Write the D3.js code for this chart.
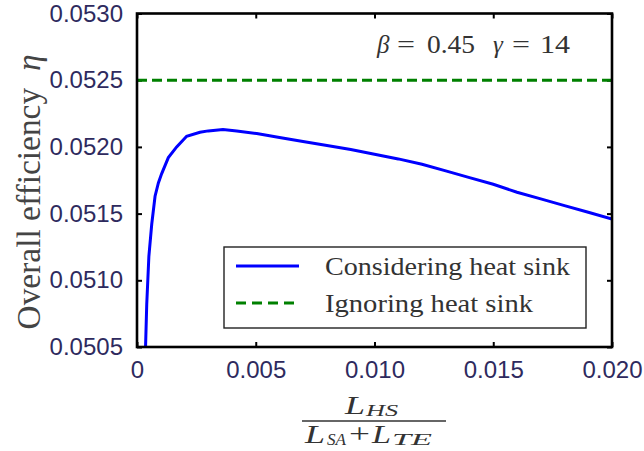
<!DOCTYPE html>
<html lang="en">
<head>
<meta charset="utf-8">
<script src="https://cdn.jsdelivr.net/npm/d3@7/dist/d3.min.js"></script>
<style>
  body { margin: 0; background: #fff; }
  svg { display: block; }
  .tick text { font-family: "Liberation Sans", Arial, sans-serif; font-size: 24px; fill: #2e2a5e; }
  .serif { font-family: "Liberation Serif", "Times New Roman", serif; fill: #333; }
</style>
</head>
<body>
<svg width="644" height="451" id="plot"></svg>
<script>
// ratio L_HS / (L_SA + L_TE)
const ratio = [0.00036, 0.00041, 0.00050, 0.00062, 0.00076, 0.00090, 0.00104, 0.00132,
  0.00167, 0.00209, 0.00265, 0.0030, 0.00362, 0.0042, 0.00504, 0.0060, 0.00699,
  0.008, 0.009, 0.010, 0.011, 0.012, 0.013, 0.014, 0.015, 0.016, 0.017, 0.018, 0.019, 0.020]
// overall efficiency, considering heat sink
const etaHeatSink = [0.0505, 0.05082, 0.05118, 0.05142, 0.05163, 0.05173, 0.05180, 0.05192,
  0.05200, 0.05208, 0.05211, 0.05212, 0.05213, 0.05212, 0.05210, 0.05207, 0.05204,
  0.05201, 0.05198, 0.051945, 0.05191, 0.05187, 0.05182, 0.05177, 0.05172, 0.05166,
  0.05161, 0.05156, 0.05151, 0.05146]
// ignoring heat sink: constant
const ratioIgnore = [0, 0.020]
const etaIgnore = [0.0525, 0.0525]

const xTicks = [0, 0.005, 0.010, 0.015, 0.020]
const xTickLabels = ["0", "0.005", "0.010", "0.015", "0.020"]
const yTicks = [0.0505, 0.0510, 0.0515, 0.0520, 0.0525, 0.0530]
const yTickLabels = ["0.0505", "0.0510", "0.0515", "0.0520", "0.0525", "0.0530"]
const legendLabels = ["Considering heat sink", "Ignoring heat sink"]

let svg = d3.select("#plot")

const plotLeft = 137, plotRight = 612, plotTop = 13.5, plotBottom = 347

let scaleX = d3.scaleLinear().domain([0, 0.02]).range([plotLeft, plotRight])
let scaleY = d3.scaleLinear().domain([0.0505, 0.0530]).range([plotBottom, plotTop])

// clip
svg.append("clipPath").attr("id", "clip")
  .append("rect")
  .attr("x", plotLeft).attr("y", plotTop)
  .attr("width", plotRight - plotLeft).attr("height", plotBottom - plotTop)

// axes (inward ticks)
let axisB = d3.axisBottom(scaleX).tickValues(xTicks)
  .tickFormat((d, i) => xTickLabels[i]).tickSizeInner(-5).tickSizeOuter(0).tickPadding(14)
let gB = svg.append("g").attr("transform", `translate(0,${plotBottom})`).call(axisB)

let axisL = d3.axisLeft(scaleY).tickValues(yTicks)
  .tickFormat((d, i) => yTickLabels[i]).tickSizeInner(-5).tickSizeOuter(0).tickPadding(14)
let gL = svg.append("g").attr("transform", `translate(${plotLeft},0)`).call(axisL)

let gT = svg.append("g").attr("transform", `translate(0,${plotTop})`)
  .call(d3.axisTop(scaleX).tickValues(xTicks).tickFormat("").tickSizeInner(-5).tickSizeOuter(0))
let gR = svg.append("g").attr("transform", `translate(${plotRight},0)`)
  .call(d3.axisRight(scaleY).tickValues(yTicks).tickFormat("").tickSizeInner(-5).tickSizeOuter(0))

for (const g of [gB, gL, gT, gR]) {
  g.select(".domain").remove()
  g.selectAll(".tick line").attr("stroke", "#000").attr("stroke-width", 2)
}
gB.selectAll(".tick text").attr("dy", "0.71em")

// lines
let line = d3.line()
  .x(function(d) { return scaleX(d[0]) })
  .y(function(d) { return scaleY(d[1]) })

svg.append("path")
  .datum(ratioIgnore.map((x, i) => [x, etaIgnore[i]]))
  .attr("clip-path", "url(#clip)")
  .attr("fill", "none")
  .attr("stroke", "#008000")
  .attr("stroke-width", 3)
  .attr("stroke-dasharray", "10,5")
  .attr("d", line)

svg.append("path")
  .datum(ratio.map((x, i) => [x, etaHeatSink[i]]))
  .attr("clip-path", "url(#clip)")
  .attr("fill", "none")
  .attr("stroke", "#0000ff")
  .attr("stroke-width", 3)
  .attr("d", line)

// frame
svg.append("rect")
  .attr("x", plotLeft).attr("y", plotTop)
  .attr("width", plotRight - plotLeft).attr("height", plotBottom - plotTop)
  .attr("fill", "none").attr("stroke", "#000").attr("stroke-width", 2.6)

// annotation: beta = 0.45  gamma = 14
let ann = svg.append("text").attr("class", "serif")
  .attr("y", 53).style("font-size", "25px")
ann.append("tspan").attr("x", 377).text("β").style("font-style", "italic")
ann.append("tspan").attr("x", 397).text("=").attr("textLength", 18).attr("lengthAdjust", "spacingAndGlyphs")
ann.append("tspan").attr("x", 427).text("0.45").attr("textLength", 48).attr("lengthAdjust", "spacingAndGlyphs")
ann.append("tspan").attr("x", 493).text("γ").style("font-style", "italic")
ann.append("tspan").attr("x", 512).text("=").attr("textLength", 18).attr("lengthAdjust", "spacingAndGlyphs")
ann.append("tspan").attr("x", 540).text("14").attr("textLength", 30).attr("lengthAdjust", "spacingAndGlyphs")

// legend
let legend = svg.append("g")
legend.append("rect")
  .attr("x", 224).attr("y", 247).attr("width", 362).attr("height", 81)
  .attr("fill", "#fff").attr("stroke", "#222").attr("stroke-width", 1.4)
const legendColors = ["#0000ff", "#008000"]
const legendDash = [null, "10,6"]
const legendWidths = [245, 208]
legendLabels.forEach((label, i) => {
  let y = 266 + i * 37
  legend.append("line")
    .attr("x1", 236).attr("x2", 299).attr("y1", y).attr("y2", y)
    .attr("stroke", legendColors[i]).attr("stroke-width", 3)
    .attr("stroke-dasharray", legendDash[i])
  legend.append("text").attr("class", "serif")
    .attr("x", 325).attr("y", y + 8.5)
    .style("font-size", "25px")
    .attr("textLength", legendWidths[i]).attr("lengthAdjust", "spacingAndGlyphs")
    .text(label)
})

// y label
let yLab = svg.append("text").attr("class", "serif")
  .attr("transform", "translate(40,192) rotate(-90)")
  .attr("text-anchor", "middle")
  .style("font-size", "34px")
  .style("fill", "#444")
  .attr("textLength", 275).attr("lengthAdjust", "spacingAndGlyphs")
  .attr("xml:space", "preserve")
yLab.append("tspan").text("Overall efficiency  ")
yLab.append("tspan").text("η").style("font-style", "italic")

// x label (fraction)
let frac = svg.append("g")
function piece(x, y, txt, size, len, italic) {
  let t = frac.append("text").attr("class", "serif")
    .attr("x", x).attr("y", y)
    .style("font-size", size + "px")
    .style("font-style", italic ? "italic" : "normal")
    .text(txt)
  if (len) t.attr("textLength", len).attr("lengthAdjust", "spacingAndGlyphs")
}
piece(345, 414, "L", 25, 20, true)
piece(366, 416, "HS", 16, 32, true)
frac.append("line")
  .attr("x1", 302).attr("x2", 446).attr("y1", 421).attr("y2", 421)
  .attr("stroke", "#333").attr("stroke-width", 1.6)
piece(305, 443, "L", 25, 20, true)
piece(327, 445, "SA", 16, 19, true)
piece(349, 443, "+", 28, 21, false)
piece(372, 443, "L", 25, 19, true)
piece(392, 445, "TE", 16, 40, true)
</script>
</body>
</html>
